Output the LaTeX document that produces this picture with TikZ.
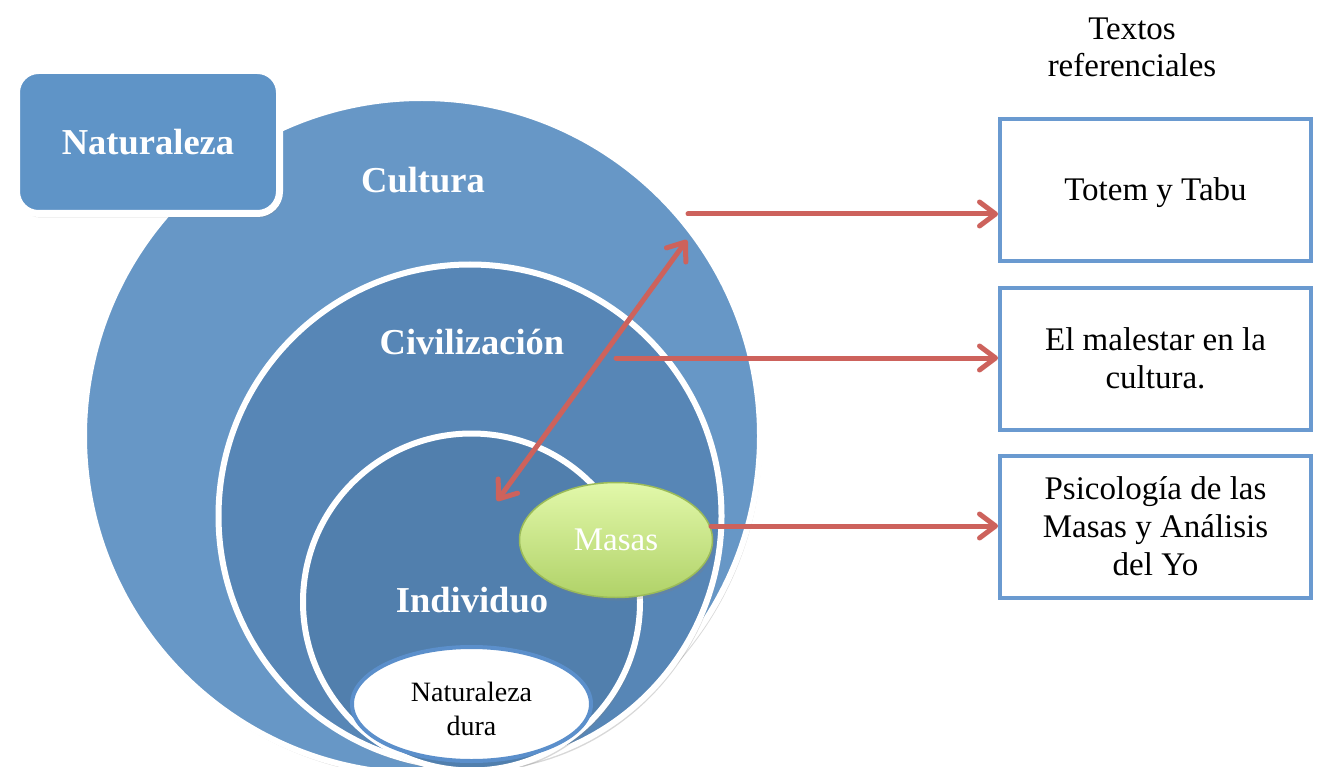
\documentclass[tikz,border=0pt]{standalone}
\usepackage{fontspec}
\setmainfont{Liberation Serif}
\usetikzlibrary{arrows.meta,shadows,shapes.geometric}
\definecolor{cultblue}{RGB}{103,151,198}
\definecolor{civblue}{RGB}{87,134,182}
\definecolor{indblue}{RGB}{81,127,173}
\definecolor{natblue}{RGB}{95,148,199}
\definecolor{boxblue}{RGB}{106,154,208}
\definecolor{durablue}{RGB}{91,143,203}
\definecolor{arrred}{RGB}{205,98,92}
\definecolor{masastop}{RGB}{226,248,170}
\definecolor{masasbot}{RGB}{176,210,104}
\definecolor{masasline}{RGB}{155,187,89}
\begin{document}
\begin{tikzpicture}[x=1pt,y=-1pt,
  ring/.style={circle,inner sep=0pt,draw=white,line width=6pt,
    drop shadow={opacity=0.3,shadow xshift=2pt,shadow yshift=-4pt}},
  bigtxt/.style={text=white,font=\fontsize{36.5}{42}\selectfont\bfseries},
  refbox/.style={draw=boxblue,line width=4pt,fill=white,minimum width=311pt,minimum height=142pt,
    inner sep=0pt,align=center,font=\fontsize{33}{38}\selectfont},
  arr/.style={draw=arrred,line width=5pt,line cap=round,
    -{Straight Barb[length=16pt,width=24pt,round]}},
  darr/.style={draw=arrred,line width=5pt,line cap=round,
    {Straight Barb[length=16pt,width=24pt,round]}-{Straight Barb[length=16pt,width=24pt,round]}}]
\clip (0,0) rectangle (1319,767);
\fill[white] (0,0) rectangle (1319,767);
% circles
\node[ring,fill=cultblue,minimum size=676pt] (cult) at (422,436) {};
\node[ring,fill=civblue,minimum size=503pt] (civ) at (470,516) {};
\node[ring,fill=indblue,minimum size=337pt] (ind) at (471.5,602) {};
\node[ellipse,inner sep=0pt,fill=white,draw=durablue,line width=4pt,minimum width=239pt,minimum height=114pt] (dura) at (471.5,704) {};
\node[align=center,font=\fontsize{28}{34}\selectfont] (tdura) at (471.5,709) {Naturaleza\\dura};
\node[ellipse,inner sep=0pt,top color=masastop,bottom color=masasbot,draw=masasline,line width=1.5pt,
  minimum width=193pt,minimum height=115pt,text=white,font=\fontsize{33}{38}\selectfont,
  drop shadow={opacity=0.25,shadow xshift=2pt,shadow yshift=-3pt}] (masas) at (616,540) {Masas};
% labels
\node[bigtxt] (tcult) at (423,180) {Cultura};
\node[bigtxt] (tciv) at (472,342) {Civilización};
\node[bigtxt] (tind) at (472,600) {Individuo};
% Naturaleza box
\node[draw=white,line width=7pt,fill=natblue,rounded corners=22pt,minimum width=263pt,minimum height=143pt,
  inner sep=0pt,drop shadow={opacity=0.3,shadow xshift=2pt,shadow yshift=-4pt},bigtxt] (nat) at (148,142) {Naturaleza};
% right side
\node[align=center,font=\fontsize{33}{37}\selectfont] (head) at (1132,47) {Textos\\referenciales};
\node[refbox] (b1) at (1155.5,190) {};
\node[font=\fontsize{33}{38}\selectfont] (tb1) at (1155.5,193) {Totem y Tabu};
\node[refbox] (b2) at (1155.5,358.5) {El malestar en la\\cultura.};
\node[refbox] (b3) at (1155.5,526.5) {Psicología de las\\Masas y Análisis\\del Yo};
% arrows
\coordinate (s1) at (688,214);
\coordinate (s2) at (616,358);
\coordinate (s3) at (711,526);
\coordinate (d1) at (497,501);
\coordinate (d2) at (687,240);
\draw[arr] (s1) -- (s1 -| b1.west);
\draw[arr] (s2) -- (s2 -| b2.west);
\draw[arr] (s3) -- (s3 -| b3.west);
\draw[darr] (d1) -- (d2);
\end{tikzpicture}
\end{document}
